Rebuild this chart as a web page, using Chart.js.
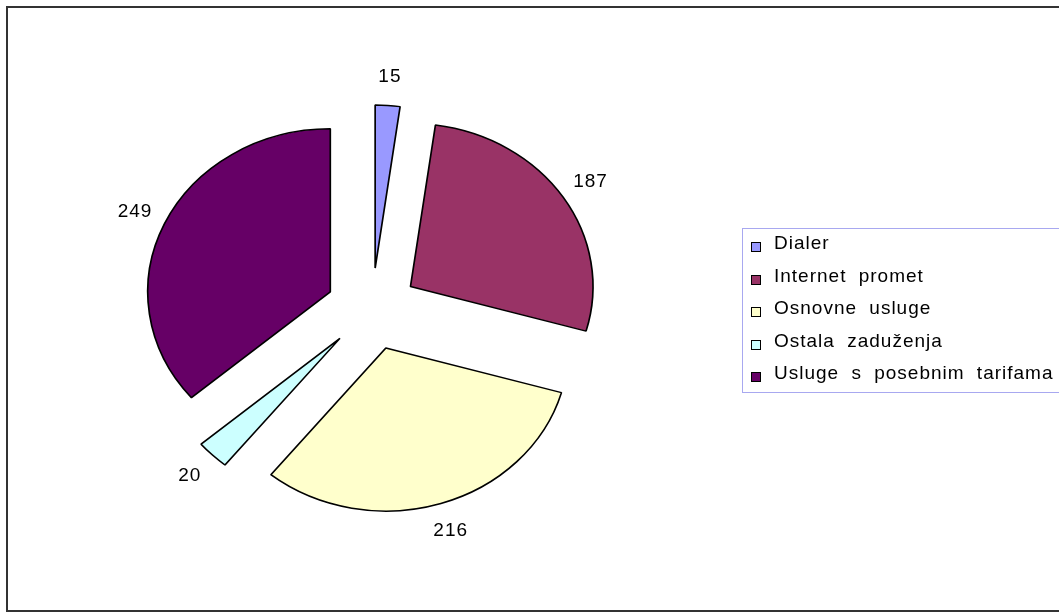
<!DOCTYPE html>
<html>
<head>
<meta charset="utf-8">
<script src="https://cdn.jsdelivr.net/npm/chart.js@4.4.1/dist/chart.umd.min.js"></script>
<style>
    html, body { margin: 0; padding: 0; background: #fff; overflow: hidden; }
    #wrap { position: relative; width: 1059px; height: 613px; overflow: hidden; }
    #frame {
        position: absolute; left: 6px; top: 6px; width: 1100px; height: 606px;
        box-sizing: border-box; border: 2px solid #333;
    }
    #my-Pie-Chart { position: absolute; left: 0; top: 0; }
    #legend {
        position: absolute; left: 742px; top: 228px; width: 400px; height: 165px;
        box-sizing: border-box; border: 1px solid #a8a8f0; background: #fff;
        font: 19px "Liberation Sans", Arial, sans-serif; color: #000;
        letter-spacing: 1px; word-spacing: 6px;
    }
    #legend .item { position: relative; height: 32.6px; line-height: 32.6px; padding-left: 31px; white-space: nowrap; }
    #legend .item:first-child { margin-top: -2px; }
    #legend .box {
        position: absolute; left: 8px; top: 15px; width: 8px; height: 8px;
        border: 1px solid #000;
    }
</style>
</head>
<body>
<div id="wrap">
    <div id="frame"></div>
    <canvas id="my-Pie-Chart" width="1059" height="613"></canvas>
    <div id="legend"></div>
</div>
<script>
// kategori dan nilai
const labels = ['Dialer', 'Internet promet', 'Osnovne usluge', 'Ostala zaduženja', 'Usluge s posebnim tarifama'];
const values = [15, 187, 216, 20, 249];
const colors = ['#9999ff', '#993366', '#ffffcc', '#ccffff', '#660066'];

const EXPLODE = 41;     // jarak potongan dari pusat
const STRETCH = 1.12;   // pie agak melebar secara horizontal
const LABEL_GAP = 29;   // jarak label di luar tepi potongan

// geser setiap potongan keluar searah sudut tengahnya, lalu lebarkan pie
const explodePlugin = {
    id: 'explode',
    beforeDatasetsDraw(chart) {
        const area = chart.chartArea;
        const cx = (area.left + area.right) / 2;
        const cy = (area.top + area.bottom) / 2;
        chart.getDatasetMeta(0).data.forEach(arc => {
            const mid = (arc.startAngle + arc.endAngle) / 2;
            arc.x = cx + EXPLODE * Math.cos(mid);
            arc.y = cy + EXPLODE * Math.sin(mid);
        });
        const ctx = chart.ctx;
        ctx.save();
        ctx.translate(cx, 0);
        ctx.scale(STRETCH, 1);
        ctx.translate(-cx, 0);
    },
    afterDatasetsDraw(chart) {
        chart.ctx.restore();
    }
};

// label nilai di luar potongan
const valueLabelPlugin = {
    id: 'valueLabels',
    afterDraw(chart) {
        const ctx = chart.ctx;
        const area = chart.chartArea;
        const cx = (area.left + area.right) / 2;
        const data = chart.data.datasets[0].data;
        ctx.save();
        ctx.font = '19px "Liberation Sans", Arial, sans-serif';
        ctx.fillStyle = '#000';
        ctx.textAlign = 'center';
        ctx.textBaseline = 'middle';
        ctx.letterSpacing = '1px';
        chart.getDatasetMeta(0).data.forEach((arc, i) => {
            const mid = (arc.startAngle + arc.endAngle) / 2;
            const dist = arc.outerRadius + LABEL_GAP;
            const x = arc.x + dist * Math.cos(mid);
            const y = arc.y + dist * Math.sin(mid);
            ctx.fillText(String(data[i]), cx + (x - cx) * STRETCH, y);
        });
        ctx.restore();
    }
};

function createPieChart() {
    const ctx = document.getElementById('my-Pie-Chart').getContext('2d');
    new Chart(ctx, {
        type: 'pie',
        data: {
            labels: labels,
            datasets: [{
                data: values,
                backgroundColor: colors,
                borderColor: '#000',
                borderWidth: 1.5,
                radius: 163
            }]
        },
        options: {
            responsive: false,
            animation: false,
            layout: {
                padding: { left: 0, right: 315, top: 5, bottom: 0 }
            },
            plugins: {
                legend: { display: false },
                tooltip: { enabled: false }
            }
        },
        plugins: [explodePlugin, valueLabelPlugin]
    });

    // legenda html
    const legend = document.getElementById('legend');
    labels.forEach((label, i) => {
        const item = document.createElement('div');
        item.className = 'item';
        const box = document.createElement('span');
        box.className = 'box';
        box.style.background = colors[i];
        item.appendChild(box);
        item.appendChild(document.createTextNode(label));
        legend.appendChild(item);
    });
}

createPieChart();
</script>
</body>
</html>
